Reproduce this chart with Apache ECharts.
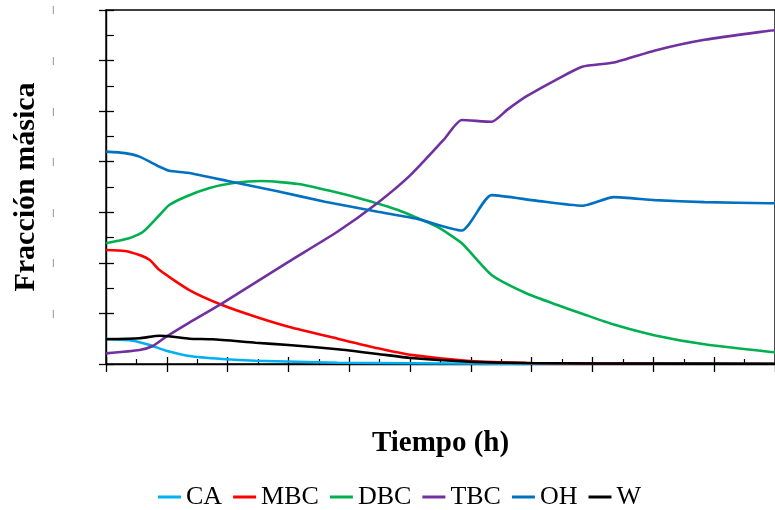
<!DOCTYPE html>
<html>
<head>
<meta charset="utf-8">
<script src="https://cdn.jsdelivr.net/npm/echarts@6/dist/echarts.min.js"></script>
<style>html,body{margin:0;padding:0;background:#fff;}#c{width:775px;height:510px;}</style>
</head>
<body>
<div id="c"></div>
<script>
// ---- data (x in h, y mass fraction) ----
const seriesNames = ['CA', 'MBC', 'DBC', 'TBC', 'OH', 'W'];
const seriesColors = ['#00B0F0', '#FF0000', '#00B050', '#7030A0', '#0070C0', '#000000'];

const tCA = [0, 0.44, 0.72, 0.99, 1.37, 1.91, 2.46, 3.81, 5.0, 6.4, 11];
const yCA = [0.0494, 0.0461, 0.0376, 0.0263, 0.0158, 0.0099, 0.0065, 0.0026, 0.0014, 0.0006, 0.0];

const tMBC = [0, 0.31, 0.55, 0.72, 0.88, 1.37, 1.91, 2.46, 3.0, 3.81, 4.47, 5.01, 5.98, 7.0, 8.05, 11];
const yMBC = [0.2254, 0.2235, 0.2155, 0.2057, 0.1859, 0.1463, 0.1167, 0.0935, 0.0738, 0.050, 0.031, 0.018, 0.006, 0.002, 0.001, 0.0];

const tDBC = [0, 0.38, 0.61, 0.88, 1.04, 1.31, 1.69, 2.07, 2.56, 3.16, 3.70, 4.25, 4.79, 5.44, 5.85, 6.34, 6.91, 7.40, 7.83, 8.35, 9.03, 9.84, 10.9, 11];
const yDBC = [0.2387, 0.2486, 0.2616, 0.2946, 0.3144, 0.3308, 0.3474, 0.3573, 0.3619, 0.356, 0.342, 0.325, 0.305, 0.2715, 0.2387, 0.176, 0.1398, 0.1175, 0.0995, 0.078, 0.0565, 0.039, 0.0243, 0.0232];

const tTBC = [0, 0.55, 0.77, 0.99, 1.37, 1.91, 3.0, 3.81, 4.47, 5.01, 5.55, 5.85, 6.34, 6.6, 6.91, 7.40, 7.83, 8.35, 9.03, 9.84, 10.9, 11];
const yTBC = [0.021, 0.0277, 0.0356, 0.054, 0.082, 0.120, 0.202, 0.262, 0.319, 0.374, 0.443, 0.4825, 0.479, 0.503, 0.529, 0.562, 0.588, 0.596, 0.620, 0.641, 0.659, 0.660];

const tOH = [0, 0.31, 0.55, 0.88, 1.04, 1.34, 2.0, 2.8, 3.6, 4.47, 5.12, 5.85, 6.34, 7.07, 7.83, 8.35, 9.03, 9.84, 10.9, 11];
const yOH = [0.420, 0.417, 0.410, 0.390, 0.382, 0.378, 0.362, 0.342, 0.321, 0.301, 0.287, 0.264, 0.334, 0.323, 0.313, 0.330, 0.324, 0.320, 0.318, 0.318];

const tW = [0, 0.55, 0.88, 1.1, 1.37, 1.75, 2.46, 3.0, 3.81, 4.47, 5.01, 5.98, 6.91, 8.05, 11];
const yW = [0.0488, 0.0508, 0.056, 0.054, 0.050, 0.0488, 0.0421, 0.0376, 0.0291, 0.0198, 0.0119, 0.0045, 0.002, 0.001, 0.0005];

const xMin = 0, xMax = 11, xStep = 1;
const yMin = 0, yMax = 0.7, yStep = 0.1;
const xTitle = 'Tiempo (h)';
const yTitle = 'Fracción másica';

const allT = [tCA, tMBC, tDBC, tTBC, tOH, tW];
const allY = [yCA, yMBC, yDBC, yTBC, yOH, yW];

const FONT = "'Liberation Serif', 'Times New Roman', serif";
const chart = echarts.init(document.getElementById('c'));

const series = seriesNames.map((n, i) => ({
  name: n,
  type: 'line',
  xAxisIndex: 0,
  yAxisIndex: 0,
  showSymbol: false,
  symbol: 'none',
  smooth: 0.2,
  lineStyle: { color: seriesColors[i], width: 2.6 },
  itemStyle: { color: seriesColors[i] },
  data: allT[i].map((t, k) => [t, allY[i][k]])
}));

const axLine = { show: true, lineStyle: { color: '#000', width: 1.4 } };

chart.setOption({
  animation: false,
  backgroundColor: '#fff',
  grid: { left: 106, top: 10, width: 675, height: 354, show: true, borderColor: '#000', borderWidth: 1.4, backgroundColor: 'transparent' },
  legend: {
    data: seriesNames,
    left: 153, top: 479,
    icon: 'rect', itemWidth: 23, itemHeight: 3, itemGap: 11,
    textStyle: { fontFamily: FONT, fontSize: 26, color: '#000' }
  },
  xAxis: [
    {
      type: 'value', position: 'bottom', min: xMin, max: xMax, interval: xStep,
      axisLine: axLine,
      axisTick: { show: true, inside: false, length: 8, lineStyle: { color: '#000', width: 1.3 } },
      minorTick: { show: false },
      axisLabel: { show: false },
      splitLine: { show: false },
      name: xTitle, nameLocation: 'middle', nameGap: 65,
      nameTextStyle: { fontFamily: FONT, fontSize: 29, fontWeight: 'bold', color: '#000' }
    },
    {
      type: 'value', position: 'bottom', min: xMin, max: xMax, interval: xStep,
      axisLine: { show: false },
      axisTick: { show: true, inside: true, length: 7, lineStyle: { color: '#000', width: 1.3 } },
      minorTick: { show: true, splitNumber: 2, length: 5, lineStyle: { color: '#000', width: 1.2 } },
      axisLabel: { show: false },
      splitLine: { show: false }
    }
  ],
  yAxis: [
    {
      type: 'value', position: 'left', min: yMin, max: yMax, interval: yStep,
      axisLine: axLine,
      axisTick: { show: true, inside: false, length: 7, lineStyle: { color: '#000', width: 1.3 } },
      minorTick: { show: false },
      axisLabel: {
        show: true, margin: 52, fontFamily: FONT, fontSize: 9, color: '#111',
        formatter: v => (v === 0 ? '' : '|')
      },
      splitLine: { show: false },
      name: yTitle, nameLocation: 'middle', nameGap: 62, nameRotate: 90,
      nameTextStyle: { fontFamily: FONT, fontSize: 30, fontWeight: 'bold', color: '#000' }
    },
    {
      type: 'value', position: 'left', min: yMin, max: yMax, interval: yStep,
      axisLine: { show: false },
      axisTick: { show: true, inside: true, length: 8, lineStyle: { color: '#000', width: 1.3 } },
      minorTick: { show: true, splitNumber: 2, length: 8, lineStyle: { color: '#000', width: 1.2 } },
      axisLabel: { show: false },
      splitLine: { show: false }
    }
  ],
  series: series
});
</script>
</body>
</html>
